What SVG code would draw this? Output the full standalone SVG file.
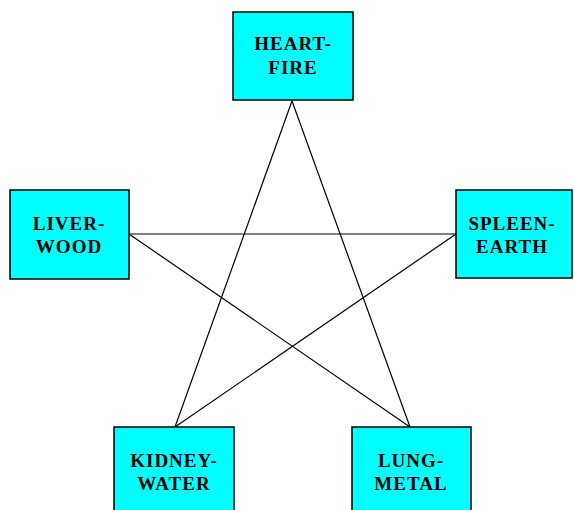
<svg xmlns="http://www.w3.org/2000/svg" width="574" height="510" viewBox="0 0 574 510">
<style>
.box{fill:#00FFFF;stroke:#000;stroke-width:1.5}
.lbl{font-family:"Liberation Serif","Times New Roman",serif;font-weight:bold;font-size:19px;fill:#000;text-anchor:middle;letter-spacing:1px}
.ln{stroke:#000;stroke-width:1.2;fill:none}
</style>
<rect width="574" height="510" fill="#fff"/>
<g id="connectors">
<line class="ln" x1="292" y1="101" x2="175" y2="427"/>
<line class="ln" x1="292" y1="101" x2="410" y2="427"/>
<line class="ln" x1="129" y1="234" x2="456" y2="234"/>
<line class="ln" x1="129" y1="234" x2="410" y2="427"/>
<line class="ln" x1="456" y1="234" x2="175" y2="427"/>
</g>
<g id="heart">
<rect class="box" x="233" y="12" width="120" height="88"/>
<text class="lbl" x="293" y="50">HEART-</text>
<text class="lbl" x="293" y="74">FIRE</text>
</g>
<g id="liver">
<rect class="box" x="10" y="190" width="119" height="89"/>
<text class="lbl" x="69" y="230">LIVER-</text>
<text class="lbl" x="69" y="253">WOOD</text>
</g>
<g id="spleen">
<rect class="box" x="456" y="190" width="116" height="88"/>
<text class="lbl" x="512" y="230">SPLEEN-</text>
<text class="lbl" x="512" y="253">EARTH</text>
</g>
<g id="kidney">
<rect class="box" x="114" y="427" width="120" height="88"/>
<text class="lbl" x="174" y="467">KIDNEY-</text>
<text class="lbl" x="174" y="490">WATER</text>
</g>
<g id="lung">
<rect class="box" x="352" y="427" width="119" height="88"/>
<text class="lbl" x="411" y="467">LUNG-</text>
<text class="lbl" x="411" y="490">METAL</text>
</g>
</svg>
